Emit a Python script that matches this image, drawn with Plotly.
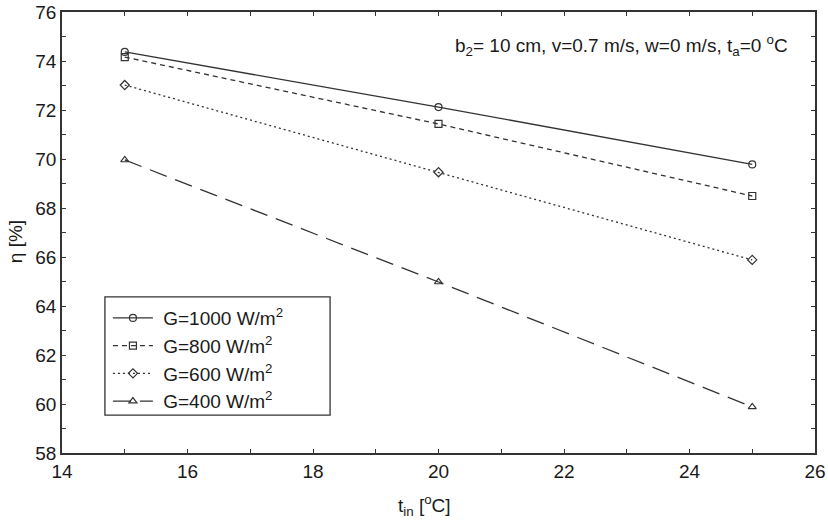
import plotly.graph_objects as go

t_in = [15, 20, 25]
eta_1000 = [74.37, 72.12, 69.78]
eta_800 = [74.16, 71.43, 68.49]
eta_600 = [73.02, 69.46, 65.88]
eta_400 = [69.96, 64.98, 59.88]

series = [
    ("G=1000 W/m<sup>2</sup>", eta_1000, "solid", "circle-open"),
    ("G=800 W/m<sup>2</sup>", eta_800, "5px,4px", "square-open"),
    ("G=600 W/m<sup>2</sup>", eta_600, "2px,3px", "diamond-open"),
    ("G=400 W/m<sup>2</sup>", eta_400, "18px,9px", "triangle-up-open"),
]

x_ticks = [14, 16, 18, 20, 22, 24, 26]
y_ticks = [58, 60, 62, 64, 66, 68, 70, 72, 74, 76]

FONT = "Liberation Sans, Arial, sans-serif"
LINE = "#333333"
TXT = "#1a1a1a"
FS = 19

fig = go.Figure()
for name, vals, dash, sym in series:
    fig.add_trace(go.Scatter(
        x=t_in, y=vals, name="&nbsp;" + name, mode="lines+markers",
        line=dict(color=LINE, width=1.3, dash=dash),
        marker=dict(symbol=sym, size=7, color=LINE, line=dict(width=1.2, color=LINE)),
    ))

axis_common = dict(
    showgrid=False, zeroline=False, showline=True, linecolor=LINE, linewidth=1.5,
    mirror="allticks", ticks="inside", ticklen=4, tickwidth=1, tickcolor=LINE,
    tickfont=dict(size=FS, color=TXT, family=FONT), automargin=False,
)

fig.update_xaxes(
    range=[14, 26], tickvals=x_ticks,
    minor=dict(dtick=1, ticks="inside", ticklen=4, tickcolor=LINE),
    **axis_common,
)
fig.update_yaxes(
    range=[58, 76], tickvals=y_ticks,
    minor=dict(dtick=1, ticks="inside", ticklen=4, tickcolor=LINE),
    **axis_common,
)

# axis titles
fig.add_annotation(
    x=0.482, y=-0.118, xref="paper", yref="paper", xanchor="center", yanchor="middle",
    text="t<sub>in</sub> [<sup>o</sup>C]", showarrow=False,
    font=dict(size=FS, color=TXT, family=FONT),
)
fig.add_annotation(
    x=-0.0624, y=0.478, xref="paper", yref="paper", xanchor="center", yanchor="middle",
    text="η [%]", showarrow=False, textangle=-90,
    font=dict(size=FS, color=TXT, family=FONT),
)

fig.add_annotation(
    x=0.967, y=0.923, xref="paper", yref="paper", xanchor="right", yanchor="middle",
    text="b<sub>2</sub>= 10 cm, v=0.7 m/s, w=0 m/s, t<sub>a</sub>=0 <sup>o</sup>C",
    showarrow=False, font=dict(size=FS, color=TXT, family=FONT),
)

# legend frame
fig.add_shape(
    type="rect", xref="paper", yref="paper",
    x0=0.057, x1=0.356, y0=0.086, y1=0.354,
    line=dict(color=LINE, width=1.3), fillcolor="rgba(0,0,0,0)", layer="above",
)

fig.update_layout(
    width=828, height=522,
    margin=dict(l=62, r=13, t=12, b=69),
    paper_bgcolor="white", plot_bgcolor="white",
    font=dict(family=FONT, size=FS, color=TXT),
    legend=dict(
        x=0.061, y=0.349, xanchor="left", yanchor="top",
        borderwidth=0, bgcolor="rgba(0,0,0,0)",
        font=dict(size=FS, family=FONT, color=TXT),
        itemwidth=40, tracegroupgap=0,
    ),
    showlegend=True,
)

fig.write_html(
    "out.html",
    config={"displayModeBar": False},
    post_script="document.body.style.margin='0';document.body.style.overflow='hidden';",
)
